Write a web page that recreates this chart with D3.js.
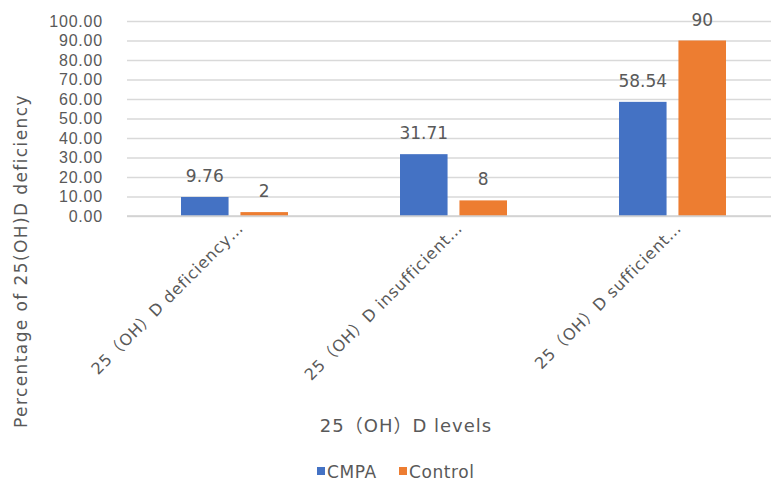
<!DOCTYPE html>
<html>
<head>
<meta charset="utf-8">
<script src="https://cdn.jsdelivr.net/npm/d3@7"></script>
<style>
  html, body { margin: 0; padding: 0; background: #fff; }
  svg { display: block; font-family: "DejaVu Sans", "Noto Sans CJK SC", sans-serif; }
</style>
</head>
<body>
<svg id="chart" width="771" height="486"></svg>
<script>
// Share of children per 25(OH)D status, CMPA vs control
const categories = ["25（OH）D deficiency…", "25（OH）D insufficient…", "25（OH）D sufficient…"];
const seriesNames = ["CMPA", "Control"];
const cmpaValues = [9.76, 31.71, 58.54];
const controlValues = [2, 8, 90];
const cmpaLabels = ["9.76", "31.71", "58.54"];
const controlLabels = ["2", "8", "90"];
const yTicks = [0, 10, 20, 30, 40, 50, 60, 70, 80, 90, 100];
const colors = ["#4472C4", "#ED7D31"];

const svg = d3.select("#chart");
const textColor = "#595959";

const y = d3.scaleLinear().domain([0, 100]).range([216, 21]);
const x0 = d3.scaleBand().domain(categories).range([125, 782]).padding(0);
const x1 = d3.scaleBand().domain(seriesNames).range([56, 163]).paddingInner(0.2).paddingOuter(0);
const color = d3.scaleOrdinal().domain(seriesNames).range(colors);

// gridlines + tick labels
const yAxis = d3.axisLeft(y).tickValues(yTicks).tickFormat(d3.format(".2f"))
  .tickSize(-660).tickPadding(24);
const gy = svg.append("g").attr("transform", "translate(127,0)").call(yAxis);
gy.select(".domain").remove();
gy.selectAll(".tick line").attr("stroke", "#d9d9d9").attr("stroke-width", 1.3);
gy.selectAll(".tick text").attr("fill", textColor)
  .style("font-size", "16px").style("letter-spacing", "0.8px")
  .attr("x", -24);

const rows = categories.map((c, i) => ({
  cat: c,
  vals: [
    { s: "CMPA", v: cmpaValues[i], label: cmpaLabels[i] },
    { s: "Control", v: controlValues[i], label: controlLabels[i] }
  ]
}));

const groups = svg.append("g").selectAll("g").data(rows).join("g")
  .attr("transform", d => `translate(${x0(d.cat)},0)`);

groups.selectAll("rect").data(d => d.vals).join("rect")
  .attr("x", d => x1(d.s))
  .attr("width", x1.bandwidth())
  .attr("y", d => y(d.v))
  .attr("height", d => y(0) - y(d.v))
  .attr("fill", d => color(d.s));

groups.selectAll("text.val").data(d => d.vals).join("text")
  .attr("class", "val")
  .attr("x", d => x1(d.s) + x1.bandwidth() / 2)
  .attr("y", d => y(d.v) - 15)
  .attr("text-anchor", "middle")
  .attr("fill", textColor)
  .style("font-size", "17px")
  .text(d => d.label);

// baseline
svg.append("line").attr("x1", 127).attr("x2", 787).attr("y1", y(0)).attr("y2", y(0))
  .attr("stroke", "#d0d0d0").attr("stroke-width", 1.5);

// rotated category labels
svg.append("g").selectAll("text").data(categories).join("text")
  .attr("transform", d => `translate(${x0(d) + x0.bandwidth() / 2 + 10},229) rotate(-45)`)
  .attr("text-anchor", "end")
  .attr("fill", textColor)
  .style("font-size", "16px").style("letter-spacing", "0.8px")
  .text(d => d);

// axis titles
svg.append("text")
  .attr("transform", "translate(27,261) rotate(-90)")
  .attr("text-anchor", "middle")
  .attr("fill", textColor)
  .style("font-size", "17px").style("letter-spacing", "1.4px")
  .text("Percentage of 25(OH)D deficiency");

svg.append("text")
  .attr("x", 406).attr("y", 432)
  .attr("text-anchor", "middle")
  .attr("fill", textColor)
  .style("font-size", "18px").style("letter-spacing", "1px")
  .text("25（OH）D levels");

// legend
const legend = svg.append("g");
const legendX = [317, 399];
seriesNames.forEach((s, i) => {
  legend.append("rect").attr("x", legendX[i]).attr("y", 467).attr("width", 8).attr("height", 8)
    .attr("fill", color(s));
  legend.append("text").attr("x", legendX[i] + 10).attr("y", 478)
    .attr("fill", textColor).style("font-size", "17px").style("letter-spacing", "0.6px")
    .text(s);
});
</script>
</body>
</html>
